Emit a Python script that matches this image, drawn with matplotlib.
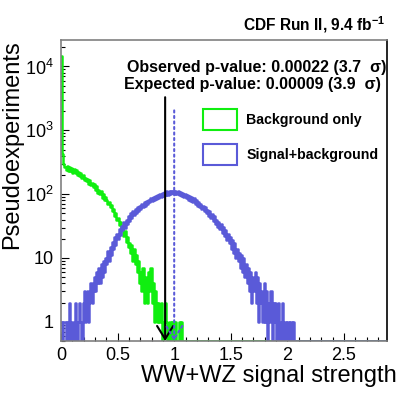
import numpy as np
import matplotlib
matplotlib.use('Agg')
from matplotlib import pyplot as plt
from matplotlib.patches import Patch
from matplotlib.ticker import FixedLocator, NullFormatter


plt.rcParams['font.family'] = ['Liberation Sans', 'DejaVu Sans']
plt.rcParams['mathtext.fontset'] = 'custom'
plt.rcParams['mathtext.rm'] = 'Liberation Sans'
plt.rcParams['mathtext.bf'] = 'Liberation Sans:bold'

bin_width = 0.01

# background-only pseudoexperiments, bins of 0.01 starting at 0
bkg_counts = [
    14500, 420, 300, 262, 238, 275, 232, 268, 228, 256,
    218, 248, 212, 236, 198, 224, 190, 214, 176, 200,
    168, 182, 160, 174, 146, 166, 138, 150, 130, 142,
    116, 132, 104, 118, 100, 110, 88, 99, 80, 90,
    82, 70, 76, 62, 68, 54, 58, 46, 50, 40,
    42, 33, 36, 27, 30, 22, 26, 18, 21, 15,
    17, 12, 16, 9, 14, 8, 11, 6, 9, 4,
    6, 3, 7, 2, 5, 4, 2, 6, 3, 7,
    2, 4, 1, 3, 2, 1, 2, 1, 2, 0,
    1, 1, 2, 1, 0, 1, 1, 0, 1, 1,
    0, 1, 0, 0, 1, 0, 1, 0,
]

# signal+background pseudoexperiments, same binning
sig_counts = [
    1, 0, 1, 1, 0, 1, 0, 2, 0, 1,
    1, 0, 2, 1, 0, 1, 2, 1, 0, 2,
    3, 1, 2, 3, 1, 2, 4, 2, 3, 5,
    3, 6, 4, 7, 4, 8, 5, 9, 6, 10,
    8, 13, 9, 15, 11, 18, 14, 21, 16, 24,
    20, 28, 23, 32, 27, 36, 30, 40, 34, 45,
    38, 50, 42, 55, 47, 58, 50, 62, 55, 66,
    58, 70, 62, 74, 66, 79, 70, 82, 74, 86,
    77, 90, 80, 94, 84, 97, 88, 100, 90, 104,
    94, 108, 96, 110, 98, 112, 100, 114, 103, 110,
    100, 113, 99, 110, 96, 108, 93, 105, 90, 100,
    86, 97, 82, 93, 79, 90, 75, 86, 70, 80,
    66, 76, 62, 71, 58, 66, 54, 62, 50, 57,
    46, 54, 42, 49, 38, 45, 34, 40, 31, 36,
    28, 34, 25, 31, 22, 27, 19, 24, 17, 21,
    14, 19, 12, 17, 10, 14, 9, 12, 7, 11,
    6, 10, 5, 8, 4, 7, 3, 6, 2, 5,
    3, 6, 2, 5, 1, 4, 2, 3, 1, 4,
    1, 3, 0, 2, 1, 3, 0, 2, 1, 2,
    0, 1, 2, 0, 1, 2, 0, 1, 1, 0,
    1, 0, 1, 1, 0, 1,
]

observed = 0.92
expected = 1.0
obs_label = 'Observed p-value: 0.00022 (3.7  σ)'
exp_label = 'Expected p-value: 0.00009 (3.9  σ)'

x_max = 2.88
y_min, y_max = 0.5, 2.6e4
green = '#10ee10'
blue = '#5a5ad8'


def hist_line(counts):
    n_bins = int(round(x_max / bin_width))
    vals = np.zeros(n_bins)
    vals[:len(counts)] = counts
    edges = np.arange(n_bins + 1) * bin_width
    vals = np.clip(vals, y_min, None)
    return edges, np.append(vals, vals[-1])


fig = plt.figure(figsize=(4.07, 3.93), dpi=100)
ax = fig.add_axes([61 / 407, 1 - 341 / 393, 326 / 407, 301 / 393])

e, v = hist_line(bkg_counts)
ax.step(e, v, where='post', color=green, lw=1.8)
e, v = hist_line(sig_counts)
ax.step(e, v, where='post', color=blue, lw=1.8)

ax.set_yscale('log')
ax.set_xlim(0, x_max)
ax.set_ylim(y_min, y_max)

ax.annotate('', xy=(observed, y_min), xytext=(observed, 3300),
            arrowprops=dict(arrowstyle='->,head_length=0.47,head_width=0.29',
                            mutation_scale=20, color='black', lw=1.5,
                            shrinkA=0, shrinkB=0))
ax.annotate('', xy=(expected, y_min), xytext=(expected, 2050),
            arrowprops=dict(arrowstyle='->,head_length=0.47,head_width=0.29',
                            mutation_scale=20, color=blue, lw=1.5, ls=':',
                            shrinkA=0, shrinkB=0))

ax.yaxis.set_major_locator(FixedLocator([1, 10, 100, 1000, 10000]))
ax.set_yticklabels(['1', '10', '$10^2$', '$10^3$', '$10^4$'])
ax.yaxis.set_minor_locator(FixedLocator(
    [m * 10 ** d for d in range(-1, 5) for m in range(2, 10)]))
ax.yaxis.set_minor_formatter(NullFormatter())
ax.xaxis.set_major_locator(FixedLocator([0, 0.5, 1, 1.5, 2, 2.5]))
ax.set_xticklabels(['0', '0.5', '1', '1.5', '2', '2.5'])
ax.xaxis.set_minor_locator(FixedLocator([i / 10 for i in range(29)]))
ax.tick_params(which='both', direction='in', top=False, right=False,
               labelsize=13, color='black')
ax.tick_params(which='major', length=6, width=0.8)
ax.tick_params(which='minor', length=3, width=0.8)
ax.tick_params(axis='x', pad=4)
ax.tick_params(axis='y', pad=5)

for side in ['left', 'bottom', 'top']:
    ax.spines[side].set_color('#808080')
ax.spines['right'].set_color('black')
for s in ax.spines.values():
    s.set_linewidth(1.2)

ax.text(0.998, 0.91, obs_label, transform=ax.transAxes, ha='right',
        va='center', fontsize=11.5, fontweight='bold')
ax.text(0.98, 0.852, exp_label, transform=ax.transAxes, ha='right',
        va='center', fontsize=11.5, fontweight='bold')

handles = [Patch(facecolor='none', edgecolor=green, lw=1.5),
           Patch(facecolor='none', edgecolor=blue, lw=1.5)]
ax.legend(handles, ['Background only', 'Signal+background'],
          loc='upper left', bbox_to_anchor=(0.4356, 0.772),
          frameon=False, borderpad=0, borderaxespad=0,
          handlelength=2.4, handleheight=1.95, handletextpad=0.65,
          labelspacing=0.95, prop=dict(size=10.2, weight='bold'))

fig.text(385 / 407, 1 - 25 / 393, 'CDF Run II, 9.4 fb$^{\\mathbf{-1}}$',
         ha='right', va='center', fontsize=11.2, fontweight='bold')
fig.text(397 / 407, 1 - 382 / 393, 'WW+WZ signal strength',
         ha='right', va='baseline', fontsize=17)
fig.text(12 / 407, 1 - 40 / 393, 'Pseudoexperiments', rotation=90,
         ha='center', va='top', fontsize=17)

fig.savefig('out.png', dpi=100)
